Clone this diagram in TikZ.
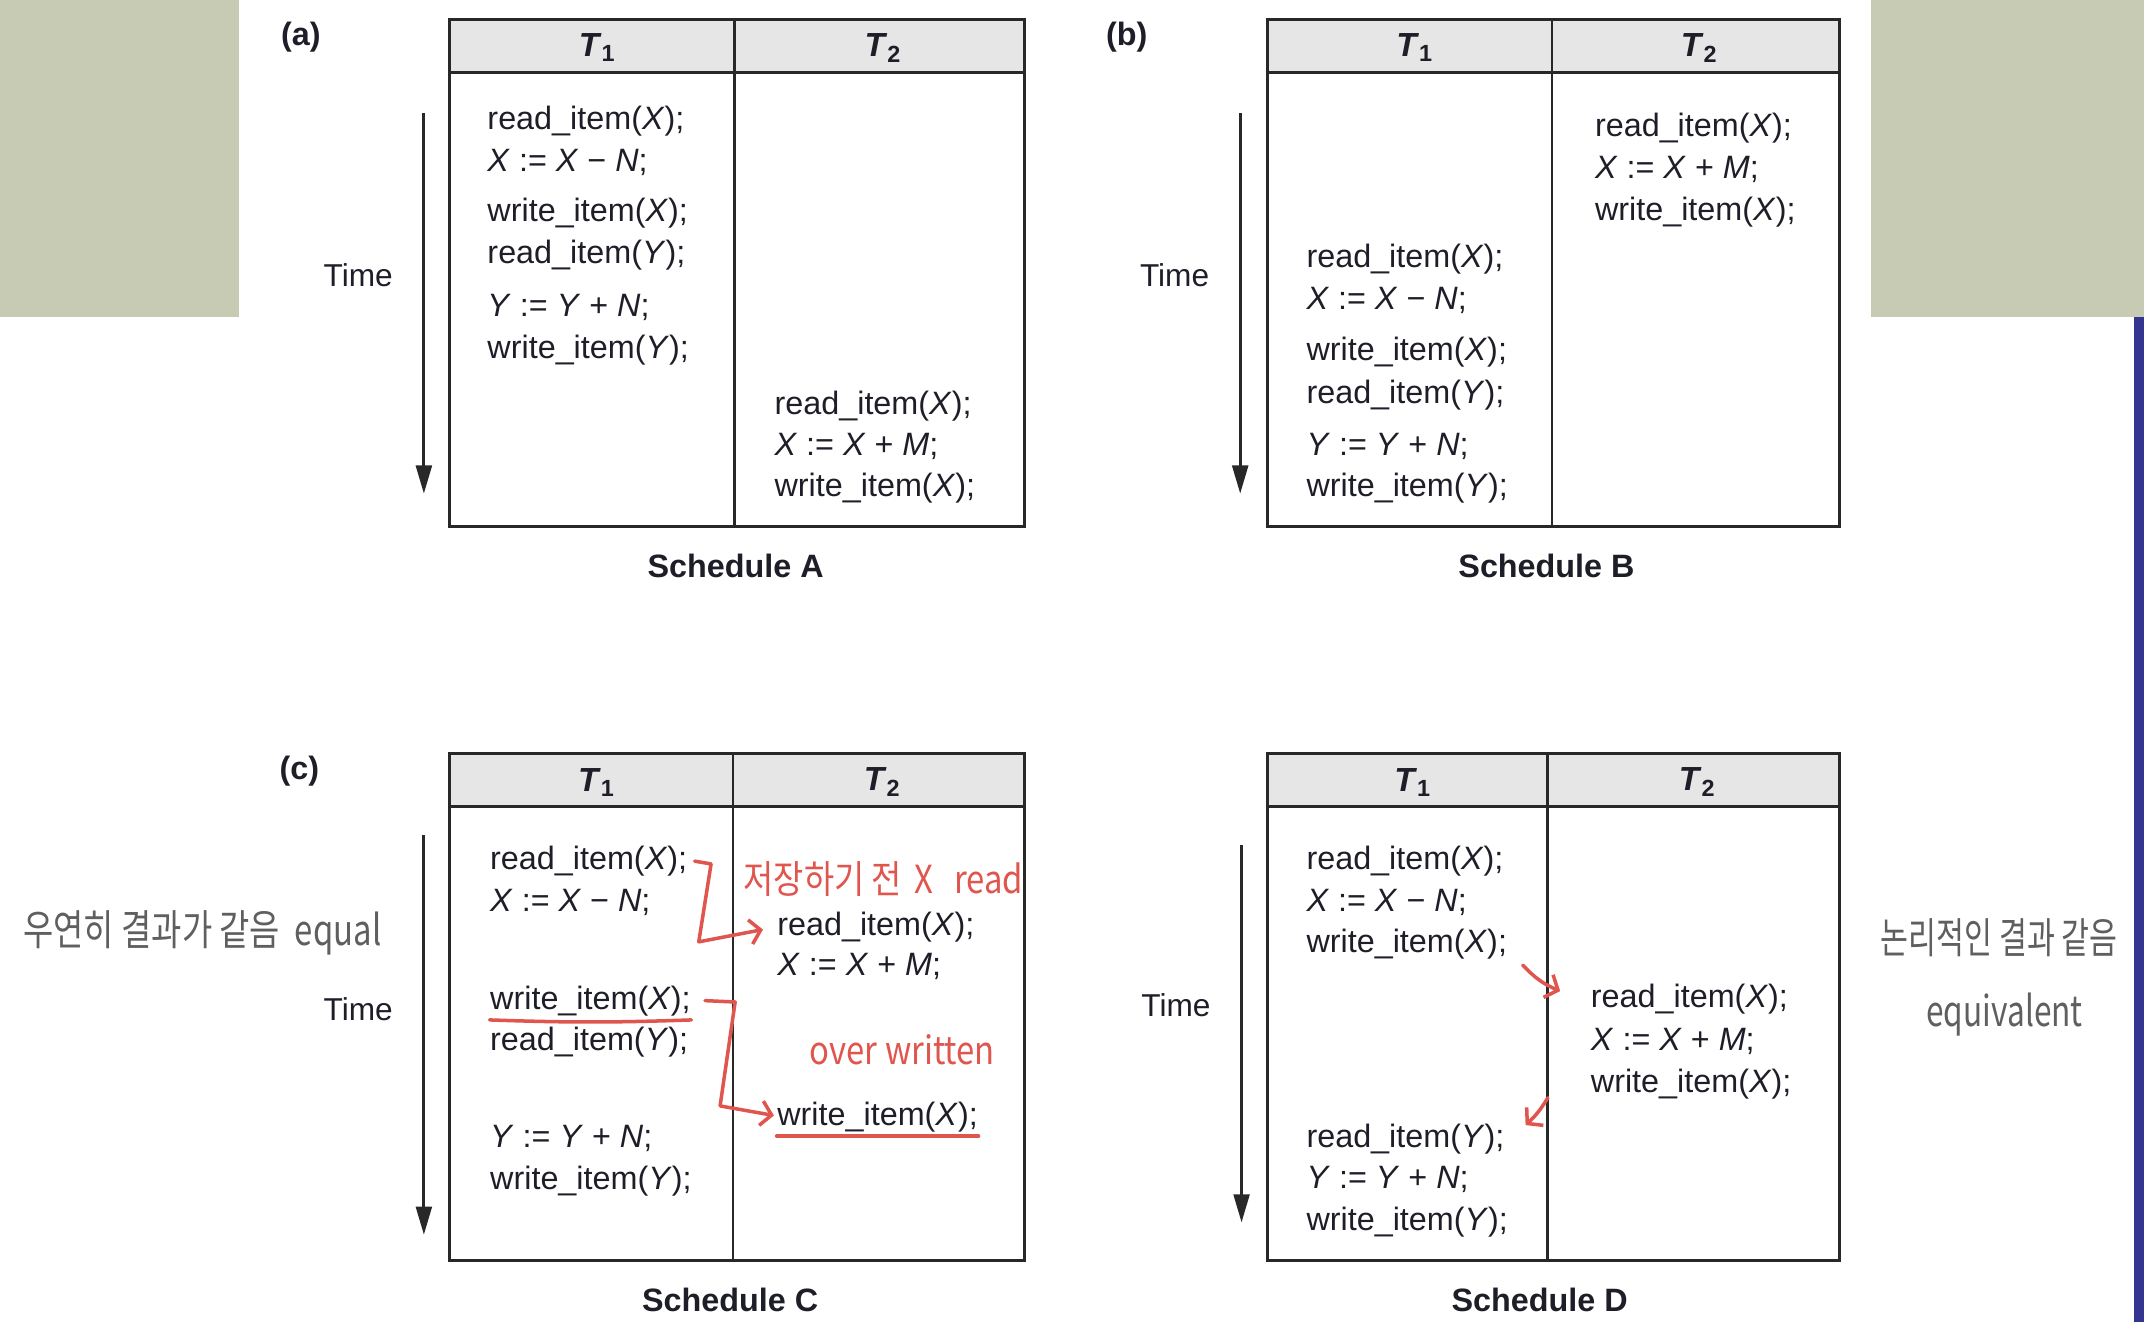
\documentclass[tikz,border=0pt]{standalone}
\usepackage{fontspec}
\setmainfont{Liberation Sans}
\newfontfamily\handfont{Noto Sans CJK KR}
\usepackage{graphicx}
\usetikzlibrary{arrows.meta, positioning}
\definecolor{sagebg}{RGB}{199,203,180}
\definecolor{edgeblue}{RGB}{52,52,145}
\definecolor{tabline}{RGB}{40,40,40}
\definecolor{hdrgray}{RGB}{230,230,230}
\definecolor{inkdark}{RGB}{30,30,40}
\definecolor{penred}{RGB}{224,86,78}
\definecolor{pengray}{RGB}{95,95,95}
\newcommand{\readitem}[1]{read\_item(\textit{#1});}
\newcommand{\writeitem}[1]{write\_item(\textit{#1});}
\newcommand{\assign}[3]{\textit{#1} := \textit{#1} #2 \textit{#3};}
\tikzset{
  stmt/.style={anchor=west, inner sep=0pt, color=inkdark, yshift=-0.7pt,
    font=\fontsize{9.2}{11}\selectfont},
  hdr/.style={inner sep=0pt, color=inkdark,
    font=\fontsize{9.5}{11}\selectfont\bfseries},
  schedcap/.style={inner sep=0pt, color=inkdark,
    font=\fontsize{9.2}{11}\selectfont\bfseries},
  timelbl/.style={inner sep=0pt, color=inkdark,
    font=\fontsize{9}{11}\selectfont},
  tabframe/.style={draw=tabline, line width=0.8pt},
  timearrow/.style={-{Triangle[length=8pt,width=4.5pt]}, line width=0.8pt, color=tabline},
  penarrow/.style={-{Straight Barb[length=3pt,width=7pt]}, line width=1pt,
    color=penred, line cap=round, line join=round},
  penline/.style={line width=1pt, color=penred, line cap=round},
  rednote/.style={inner sep=0pt, color=penred,
    font=\handfont\fontsize{11}{12}\selectfont},
  graynote/.style={inner sep=0pt, color=pengray,
    font=\handfont\fontsize{12}{13}\selectfont}
}
\begin{document}
\begin{tikzpicture}[x=0.013673cm, y=-0.013673cm]
  \useasboundingbox (0,0) rectangle (1568,967);
  % Background patches
  \fill[sagebg] (0,0) rectangle (175,232);
  \fill[sagebg] (1368,0) rectangle (1568,232);
  \fill[edgeblue] (1561,232) rectangle (1568,967);

  % Table frames and headers
  \foreach \lx/\ty/\mx/\rx/\s in {329/14/537/749/a, 927/14/1135/1345/b,
                                  329/551/536/749/c, 927/551/1132/1345/d} {
    \fill[hdrgray] (\lx,\ty) rectangle (\rx,\ty+39);
    \draw[tabframe] (\lx,\ty) rectangle (\rx,\ty+371);
    \draw[tabframe] (\lx,\ty+39) -- (\rx,\ty+39);
    \draw[tabframe] (\mx,\ty) -- (\mx,\ty+371);
    \node[hdr] (\s hdr1) at ({(\lx+\mx)/2+4},\ty+21) {\textit{T}\textsubscript{1}};
    \node[hdr] (\s hdr2) at ({(\mx+\rx)/2+3},\ty+21) {\textit{T}\textsubscript{2}};
  }

  % Panel letters
  \node[schedcap] (lblA) at (220,27) {(a)};
  \node[schedcap] (lblB) at (824,27) {(b)};
  \node[schedcap] (lblC) at (219,564) {(c)};

  % Time axes
  \node[timelbl] (timeA) at (262,201) {Time};
  \node[timelbl] (timeB) at (859,201) {Time};
  \node[timelbl] (timeC) at (262,738) {Time};
  \node[timelbl] (timeD) at (860,735) {Time};
  \coordinate (tA0) at (310,83);  \coordinate (tA1) at (310,361);
  \coordinate (tB0) at (907,83);  \coordinate (tB1) at (907,361);
  \coordinate (tC0) at (310,611); \coordinate (tC1) at (310,903);
  \coordinate (tD0) at (908,618); \coordinate (tD1) at (908,894);
  \draw[timearrow] (tA0) -- (tA1);
  \draw[timearrow] (tB0) -- (tB1);
  \draw[timearrow] (tC0) -- (tC1);
  \draw[timearrow] (tD0) -- (tD1);

  % Schedule A
  \node[stmt] (aT1rx) at (356,87) {\readitem{X}};
  \node[stmt] (aT1cx) at (356,117) {\assign{X}{−}{N}};
  \node[stmt] (aT1wx) at (356,154) {\writeitem{X}};
  \node[stmt] (aT1ry) at (356,185) {\readitem{Y}};
  \node[stmt] (aT1cy) at (356,223) {\assign{Y}{+}{N}};
  \node[stmt] (aT1wy) at (356,254) {\writeitem{Y}};
  \node[stmt] (aT2rx) at (566,295) {\readitem{X}};
  \node[stmt] (aT2cx) at (566,325) {\assign{X}{+}{M}};
  \node[stmt] (aT2wx) at (566,355) {\writeitem{X}};
  \node[schedcap] (capA) at (538,414) {Schedule A};

  % Schedule B
  \node[stmt] (bT2rx) at (1166,92) {\readitem{X}};
  \node[stmt] (bT2cx) at (1166,122) {\assign{X}{+}{M}};
  \node[stmt] (bT2wx) at (1166,153) {\writeitem{X}};
  \node[stmt] (bT1rx) at (955,188) {\readitem{X}};
  \node[stmt] (bT1cx) at (955,218) {\assign{X}{−}{N}};
  \node[stmt] (bT1wx) at (955,256) {\writeitem{X}};
  \node[stmt] (bT1ry) at (955,287) {\readitem{Y}};
  \node[stmt] (bT1cy) at (955,325) {\assign{Y}{+}{N}};
  \node[stmt] (bT1wy) at (955,355) {\writeitem{Y}};
  \node[schedcap] (capB) at (1131,414) {Schedule B};

  % Schedule C
  \node[stmt] (cT1rx) at (358,628) {\readitem{X}};
  \node[stmt] (cT1cx) at (358,658) {\assign{X}{−}{N}};
  \node[stmt] (cT1wx) at (358,730) {\writeitem{X}};
  \node[stmt] (cT1ry) at (358,760) {\readitem{Y}};
  \node[stmt] (cT1cy) at (358,831) {\assign{Y}{+}{N}};
  \node[stmt] (cT1wy) at (358,862) {\writeitem{Y}};
  \node[stmt] (cT2rx) at (568,676) {\readitem{X}};
  \node[stmt] (cT2cx) at (568,705) {\assign{X}{+}{M}};
  \node[stmt] (cT2wx) at (568,815) {\writeitem{X}};
  \node[schedcap] (capC) at (534,951) {Schedule C};

  % Schedule D
  \node[stmt] (dT1rx) at (955,628) {\readitem{X}};
  \node[stmt] (dT1cx) at (955,658) {\assign{X}{−}{N}};
  \node[stmt] (dT1wx) at (955,689) {\writeitem{X}};
  \node[stmt] (dT1ry) at (955,831) {\readitem{Y}};
  \node[stmt] (dT1cy) at (955,861) {\assign{Y}{+}{N}};
  \node[stmt] (dT1wy) at (955,892) {\writeitem{Y}};
  \node[stmt] (dT2rx) at (1163,729) {\readitem{X}};
  \node[stmt] (dT2cx) at (1163,760) {\assign{X}{+}{M}};
  \node[stmt] (dT2wx) at (1163,791) {\writeitem{X}};
  \node[schedcap] (capD) at (1126,951) {Schedule D};

  % Hand-written notes
  \node[graynote] (noteEqual) at (148,682) {\scalebox{0.78}[1]{우연히 결과가 같음 \ equal}};
  \node[graynote] (noteEquiv) at (1462,686) {\scalebox{0.72}[1]{논리적인 결과 같음}};
  \node[graynote] (noteEquivEn) at (1466,742) {\scalebox{0.75}[1]{equivalent}};
  \node[rednote] (noteRead) at (646,643) {\scalebox{0.85}[1]{저장하기 전 \,X \, read}};
  \node[rednote] (noteOver) at (660,768) {\scalebox{0.85}[1]{over written}};

  % Red marks on schedule C
  \draw[penline] ([yshift=-1pt]cT1wx.south west) to[bend right=2] ([yshift=-1pt]cT1wx.south east);
  \draw[penline] ([yshift=-1pt]cT2wx.south west) -- ([yshift=-1pt]cT2wx.south east);
  \draw[penarrow] ([shift={(5,0)}]cT1rx.east) -- ++(12,2) -- ++(-9,57) -- ([shift={(-10,2)}]cT2rx.west);
  \draw[penarrow] ([shift={(10,0)}]cT1wx.east) -- ++(22,1) -- ++(-11,76) -- ([shift={(-2,-1)}]cT2wx.west);

  % Red marks on schedule D
  \draw[penarrow] ([shift={(11,15)}]dT1wx.east) to[bend right=12] ([shift={(-22,-6)}]dT2rx.west);
  \draw[penarrow] ([shift={(-31,10)}]dT2wx.west) to[bend left=8] ([shift={(15,-10)}]dT1ry.east);
\end{tikzpicture}
\end{document}
